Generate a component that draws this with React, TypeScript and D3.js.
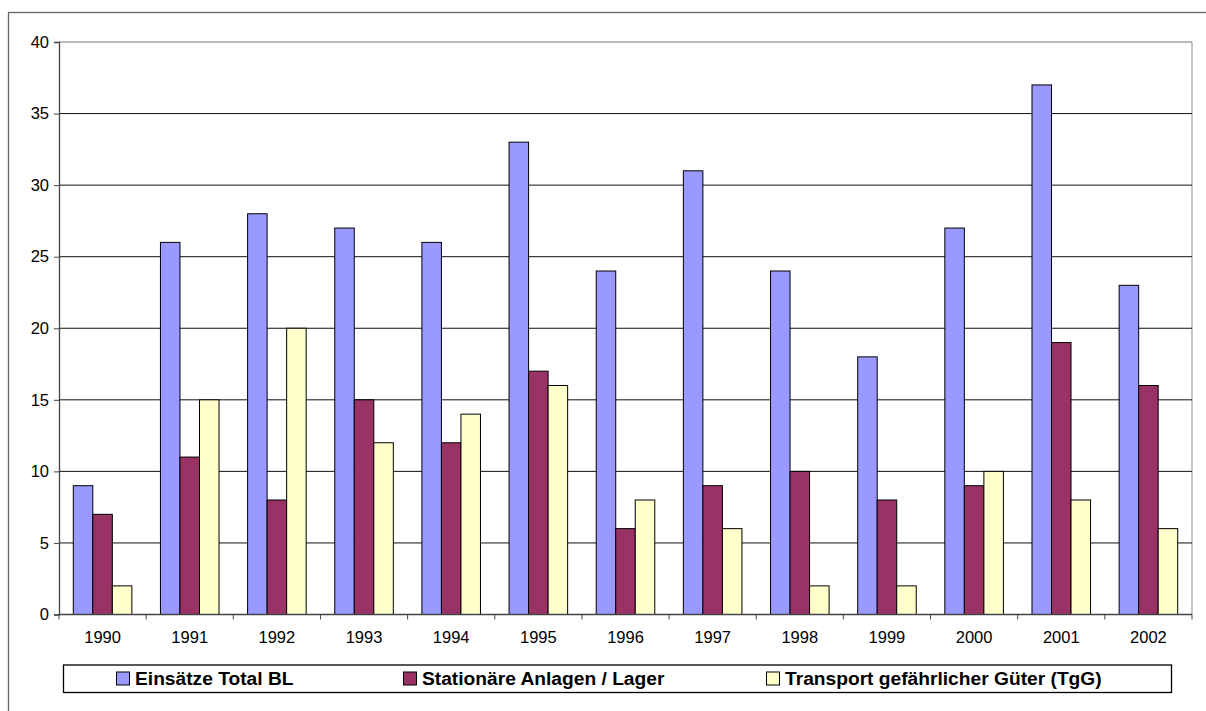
import React, { useEffect, useRef } from "react";
import * as d3 from "d3";

const years = ["1990", "1991", "1992", "1993", "1994", "1995", "1996", "1997", "1998", "1999", "2000", "2001", "2002"];
const einsaetze = [9, 26, 28, 27, 26, 33, 24, 31, 24, 18, 27, 37, 23];
const stationaer = [7, 11, 8, 15, 12, 17, 6, 9, 10, 8, 9, 19, 16];
const transport = [2, 15, 20, 12, 14, 16, 8, 6, 2, 2, 10, 8, 6];
const seriesNames = ["Einsätze Total BL", "Stationäre Anlagen / Lager", "Transport gefährlicher Güter (TgG)"];
const seriesColors = ["#9999FF", "#993366", "#FFFFCC"];
const yTicks = [0, 5, 10, 15, 20, 25, 30, 35, 40];

function App() {
  const ref = useRef<SVGSVGElement>(null);

  useEffect(() => {
    const svg = d3.select(ref.current);
    svg.selectAll("*").remove();

    const left = 59, right = 1192, top = 42, bottom = 614.5;
    const font = "'Liberation Sans', Arial, sans-serif";

    // outer frame
    svg.append("rect")
      .attr("x", 8.5).attr("y", 12.5)
      .attr("width", 1250).attr("height", 750)
      .attr("fill", "white").attr("stroke", "#666").attr("stroke-width", 1.3);

    const x = d3.scaleBand().domain(years).range([left, right]).paddingInner(0).paddingOuter(0);
    const y = d3.scaleLinear().domain([0, 40]).range([bottom, top]);

    const bw = x.bandwidth();
    const barW = bw * 0.224;
    const groupOff = (bw - barW * 3) / 2;

    // plot frame right
    svg.append("line").attr("x1", right).attr("x2", right).attr("y1", top).attr("y2", bottom)
      .attr("stroke", "#aaa").attr("stroke-width", 1.3);

    // grid
    svg.append("g").selectAll("line").data(yTicks.filter((t) => t > 0)).enter().append("line")
      .attr("x1", left).attr("x2", right)
      .attr("y1", (d) => y(d)).attr("y2", (d) => y(d))
      .attr("stroke", (d) => (d === 40 ? "#777" : "#111")).attr("stroke-width", 1);

    const data = [einsaetze, stationaer, transport];
    data.forEach((vals, si) => {
      svg.append("g").selectAll("rect").data(vals).enter().append("rect")
        .attr("x", (d, i) => (x(years[i]) as number) + groupOff + si * barW)
        .attr("y", (d) => y(d))
        .attr("width", barW)
        .attr("height", (d) => y(0) - y(d))
        .attr("fill", seriesColors[si])
        .attr("stroke", "#000").attr("stroke-width", 1);
    });

    // y axis
    const yAxis = svg.append("g").attr("transform", `translate(${left},0)`)
      .call(d3.axisLeft(y).tickValues(yTicks).tickSize(5).tickPadding(5));
    yAxis.select(".domain").attr("stroke", "#444").attr("stroke-width", 1.3);
    yAxis.selectAll(".tick line").attr("stroke", "#444");
    yAxis.selectAll("text").attr("font-family", font).attr("font-size", 16.5).attr("fill", "#000");

    // x axis
    const xg = svg.append("g").attr("transform", `translate(0,${bottom})`);
    xg.append("line").attr("x1", left).attr("x2", right).attr("stroke", "#444").attr("stroke-width", 1.3);
    xg.selectAll("line.tk").data(years.concat(["end"])).enter().append("line")
      .attr("class", "tk")
      .attr("x1", (d, i) => left + i * bw).attr("x2", (d, i) => left + i * bw)
      .attr("y1", 0).attr("y2", 5).attr("stroke", "#444");
    xg.selectAll("text").data(years).enter().append("text")
      .attr("x", (d) => (x(d) as number) + bw / 2)
      .attr("y", 28)
      .attr("text-anchor", "middle")
      .attr("font-family", font).attr("font-size", 16.5)
      .text((d) => d);

    // legend
    const lg = svg.append("g");
    lg.append("rect").attr("x", 63.5).attr("y", 665).attr("width", 1108).attr("height", 27.5)
      .attr("fill", "white").attr("stroke", "#000").attr("stroke-width", 1.3);
    const legX = [116.5, 403.5, 766.5];
    seriesNames.forEach((name, i) => {
      lg.append("rect").attr("x", legX[i]).attr("y", 672).attr("width", 13).attr("height", 13)
        .attr("fill", seriesColors[i]).attr("stroke", "#000").attr("stroke-width", 1);
      lg.append("text").attr("x", legX[i] + 18.5).attr("y", 684.5)
        .attr("font-family", font).attr("font-weight", "bold").attr("font-size", 19.2)
        .text(name);
    });
  }, []);

  return (
    <svg ref={ref} width={1206} height={711}
      style={{ position: "absolute", left: 0, top: 0, background: "white" }} />
  );
}

export default App;
